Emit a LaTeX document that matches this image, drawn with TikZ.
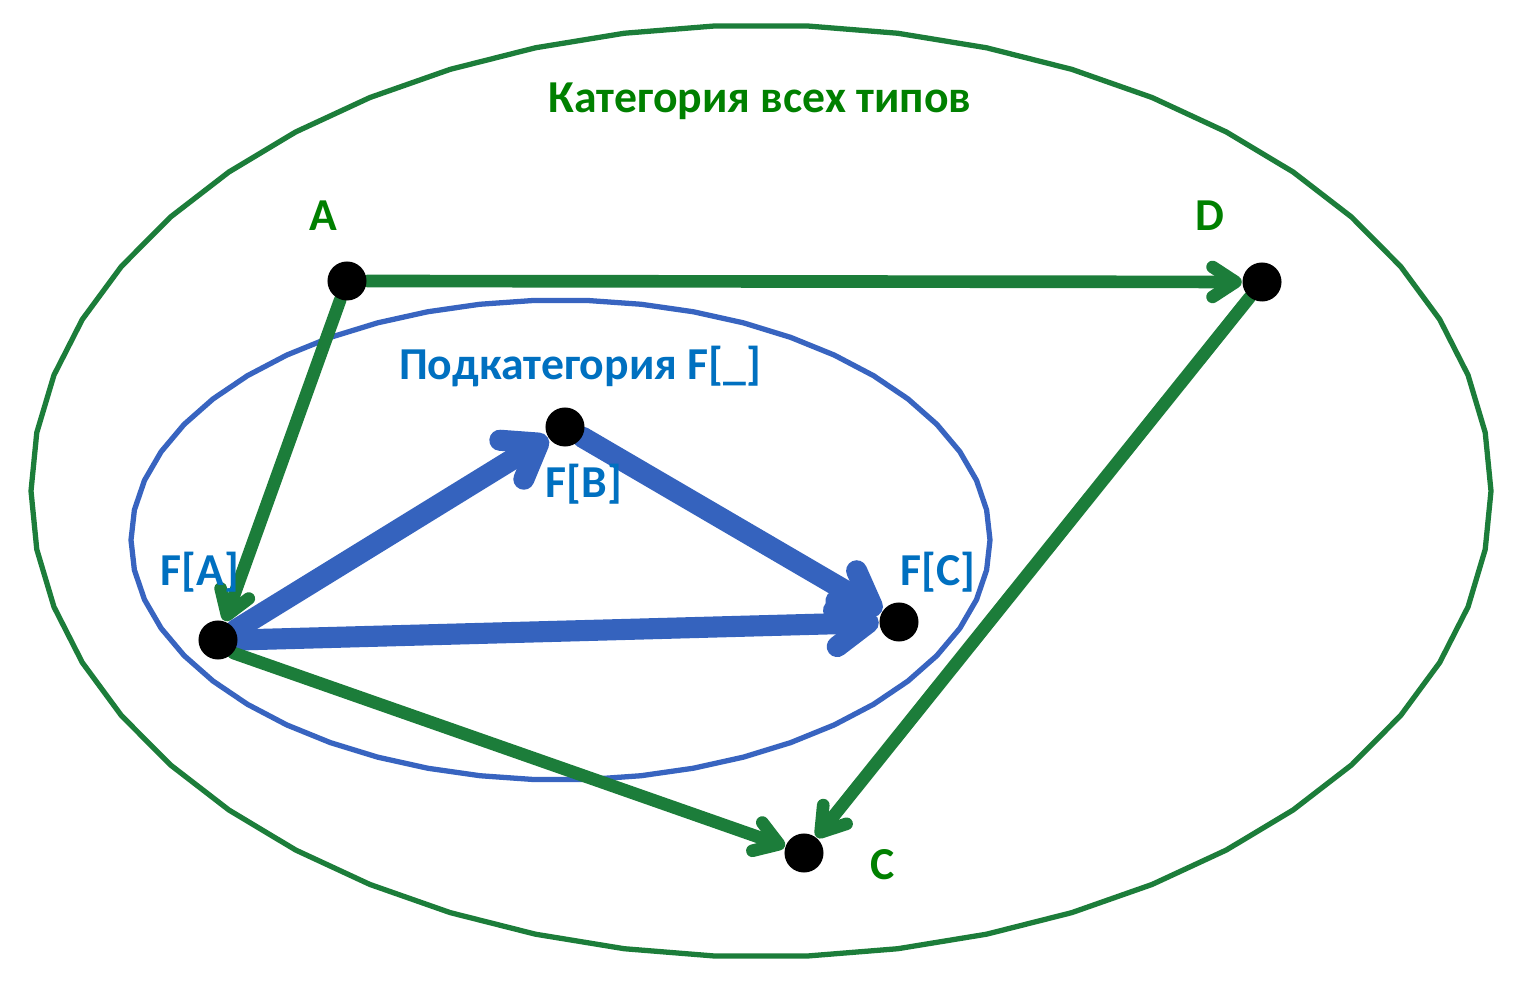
\documentclass[tikz,border=0pt]{standalone}
\usepackage{fontspec}
\setmainfont{Carlito}
\usetikzlibrary{arrows.meta}
\definecolor{gline}{RGB}{28,125,58}
\definecolor{gtext}{RGB}{0,128,0}
\definecolor{bline}{RGB}{53,99,190}
\definecolor{btext}{RGB}{0,112,192}
\definecolor{ibline}{RGB}{56,100,192}
\pgfdeclarelayer{bg}
\pgfsetlayers{bg,main}
\begin{document}
\begin{tikzpicture}[x=0.01cm,y=-0.01cm,
  dot/.style={circle, fill=black, inner sep=0pt, minimum size=0.39cm},
  garrow/.style={draw=gline, line width=3.6pt, line cap=round, -{Straight Barb[length=6.5pt,width=8.5pt,round]}},
  barrow/.style={draw=bline, line width=6pt, line cap=round, -{Straight Barb[length=9pt,width=13pt,round]}},
  lbl/.style={font=\bfseries\fontsize{13}{15}\selectfont, anchor=base, inner sep=0pt},
  glbl/.style={lbl, text=gtext},
  blbl/.style={lbl, text=btext},
  outerell/.style={draw=gline, line width=1.5pt, line join=round},
  innerell/.style={draw=ibline, line width=1.5pt, line join=round}]
\useasboundingbox (0,0) rectangle (1527,989);

% dots
\node[dot] (A)  at (347,281) {};
\node[dot] (D)  at (1262,282) {};
\node[dot] (FB) at (565,427) {};
\node[dot] (FA) at (218,640) {};
\node[dot] (FC) at (899,622) {};
\node[dot] (C)  at (804,853) {};

% labels
\node[glbl] (title) at (760,113) {Категория всех типов};
\node[glbl] (lA) at (323,231) {A};
\node[glbl] (lD) at (1210,231) {D};
\node[glbl] (lC) at (883,880) {C};
\node[blbl] (sub) at (580,380) {Подкатегория F[\_]};
\node[blbl] (lFB) at (584,498) {F[B]};
\node[blbl] (lFA) at (200,586) {F[A]};
\node[blbl] (lFC) at (938,586) {F[C]};

\begin{pgfonlayer}{bg}
\fill[white] (0,0) rectangle (1527,989);
\draw[outerell] plot[domain=0:360, samples=51] ({761+730*cos(\x)},{491+466*sin(\x)}) -- cycle;
\draw[innerell] plot[domain=0:360, samples=51] ({560.5+429.5*cos(\x)},{540+240*sin(\x)}) -- cycle;

\draw[barrow] (FA.30) -- (FB);
\draw[barrow] (FB) -- (FC);
\draw[barrow] (FA.0) -- (FC);

\draw[garrow] (A) -- (D);
\draw[garrow] (A) -- (FA);
\draw[garrow] (D) -- (C);
\draw[garrow] (FA.-40) -- (C);
\end{pgfonlayer}
\end{tikzpicture}
\end{document}
